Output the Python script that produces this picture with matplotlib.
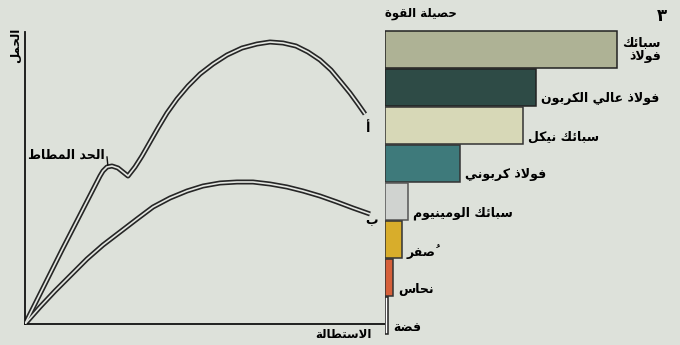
import matplotlib
matplotlib.use("Agg")
import matplotlib.pyplot as plt

######################### Data ############################
# curve a (upper, with yield point) - elongation / load in picture units
curve_a_x = [0, 37, 75, 78, 82, 87, 93, 98, 103, 110, 117, 125, 133, 142, 152,
             163, 175, 188, 202, 217, 232, 245, 258, 271, 283, 295, 306, 316,
             325, 333, 340]
curve_a_y = [0, 74, 148, 153, 157, 158, 156, 152, 148, 157, 168, 182, 196, 211,
             225, 238, 250, 260, 269, 276, 280, 282, 281, 278, 272, 264, 254,
             242, 231, 220, 210]

# curve b (lower)
curve_b_x = [0, 15, 30, 45, 62, 78, 95, 112, 128, 145, 162, 178, 195, 212, 228,
             245, 262, 278, 295, 312, 328, 345]
curve_b_y = [0, 17, 33, 48, 65, 79, 92, 105, 117, 126, 133, 138, 141, 142, 142,
             140, 137, 133, 128, 122, 116, 110]

# yield strength bars
metals = ["سبائك\nفولاذ", "فولاذ عالي الكربون", "سبائك نيكل", "فولاذ كربوني",
          "سبائك الومينيوم", "صُفر", "نحاس", "فضة"]
strength = [232, 151, 138, 75, 23, 17, 8, 3]
bar_colors = ["#aeb295", "#2e4b46", "#d7d8b7", "#3e7a7b",
              "#d0d3d0", "#d8ad2b", "#d6603a", "#ffffff"]
bar_edges = ["#222222", "#222222", "#333333", "#333333",
             "#555555", "#333333", "#333333", "#222222"]

######################### Functions ############################
# simple arabic shaping: pick presentation forms and reverse for LTR drawing
ISO = {'ء': (0xFE80, 'U'), 'آ': (0xFE81, 'R'), 'أ': (0xFE83, 'R'), 'ؤ': (0xFE85, 'R'),
       'إ': (0xFE87, 'R'), 'ئ': (0xFE89, 'D'), 'ا': (0xFE8D, 'R'), 'ب': (0xFE8F, 'D'),
       'ة': (0xFE93, 'R'), 'ت': (0xFE95, 'D'), 'ث': (0xFE99, 'D'), 'ج': (0xFE9D, 'D'),
       'ح': (0xFEA1, 'D'), 'خ': (0xFEA5, 'D'), 'د': (0xFEA9, 'R'), 'ذ': (0xFEAB, 'R'),
       'ر': (0xFEAD, 'R'), 'ز': (0xFEAF, 'R'), 'س': (0xFEB1, 'D'), 'ش': (0xFEB5, 'D'),
       'ص': (0xFEB9, 'D'), 'ض': (0xFEBD, 'D'), 'ط': (0xFEC1, 'D'), 'ظ': (0xFEC5, 'D'),
       'ع': (0xFEC9, 'D'), 'غ': (0xFECD, 'D'), 'ف': (0xFED1, 'D'), 'ق': (0xFED5, 'D'),
       'ك': (0xFED9, 'D'), 'ل': (0xFEDD, 'D'), 'م': (0xFEE1, 'D'), 'ن': (0xFEE5, 'D'),
       'ه': (0xFEE9, 'D'), 'و': (0xFEED, 'R'), 'ى': (0xFEEF, 'R'), 'ي': (0xFEF1, 'D')}
LAM_ALEF = {'آ': 0xFEF5, 'أ': 0xFEF7, 'إ': 0xFEF9, 'ا': 0xFEFB}


def is_mark(c):
    return 0x064B <= ord(c) <= 0x0652


def shape_line(text):
    chars = list(text)
    letters = [i for i, c in enumerate(chars) if not is_mark(c)]
    clusters = []
    k = 0
    while k < len(letters):
        i = letters[k]
        c = chars[i]
        marks = ""
        j = i + 1
        while j < len(chars) and is_mark(chars[j]):
            marks += chars[j]
            j += 1
        prev = chars[letters[k - 1]] if k > 0 else None
        nxt = chars[letters[k + 1]] if k + 1 < len(letters) else None
        prev_joins = prev in ISO and ISO[prev][1] == 'D'
        if c == 'ل' and nxt in LAM_ALEF:
            code = LAM_ALEF[nxt] + (1 if prev_joins else 0)
            clusters.append(chr(code) + marks)
            k += 2
            continue
        if c in ISO:
            base, kind = ISO[c]
            next_joins = nxt in ISO and ISO[nxt][1] in 'DR'
            if kind == 'D':
                if prev_joins and next_joins:
                    code = base + 3
                elif prev_joins:
                    code = base + 1
                elif next_joins:
                    code = base + 2
                else:
                    code = base
            elif kind == 'R':
                code = base + 1 if prev_joins else base
            else:
                code = base
            clusters.append(chr(code) + marks)
        else:
            clusters.append(c + marks)
        k += 1
    return "".join(reversed(clusters))


def ar(text):
    return "\n".join(shape_line(line) for line in text.split("\n"))


def double_line(ax, x, y):
    ax.plot(x, y, color="#262626", lw=3.6, solid_capstyle="butt",
            solid_joinstyle="round", zorder=2)
    ax.plot(x, y, color="#e4e7e2", lw=1.2, solid_capstyle="butt",
            solid_joinstyle="round", zorder=3)

###########################################################

plt.rcParams['font.family'] = ['DejaVu Sans']
bg = "#dde1da"

fig = plt.figure(figsize=(6.8, 3.45), dpi=100, facecolor=bg)

# load / elongation chart
ax = fig.add_axes([25 / 680, 21 / 345, 360 / 680, 292 / 345])
ax.set_facecolor("none")
ax.set_xlim(0, 360)
ax.set_ylim(0, 292)
for s in ["top", "right"]:
    ax.spines[s].set_visible(False)
for s in ["left", "bottom"]:
    ax.spines[s].set_linewidth(1.3)
    ax.spines[s].set_color("#111111")
ax.set_xticks([])
ax.set_yticks([])

double_line(ax, curve_a_x, curve_a_y)
double_line(ax, curve_b_x, curve_b_y)

ax.text(343, 196, ar("أ"), fontsize=9, fontweight="bold", ha="center", va="center")
ax.text(347, 103, ar("ب"), fontsize=9, fontweight="bold", ha="center", va="center")
ax.text(80, 169, ar("الحد المطاط"), fontsize=9, fontweight="bold", ha="right", va="center")
ax.plot([82, 83], [167, 157], color="#111111", lw=1)

fig.text(15 / 680, 1 - 45 / 345, ar("الحمل"), fontsize=8.5, fontweight="bold",
         rotation=90, ha="center", va="center")
fig.text(372 / 680, 1 - 334 / 345, ar("الاستطالة"), fontsize=8.5, fontweight="bold",
         ha="right", va="center")

# yield strength bars
bx = fig.add_axes([385 / 680, 10 / 345, 295 / 680, 305 / 345])
bx.set_facecolor("none")
bx.set_xlim(0, 295)
bx.set_ylim(7.5, -0.5)
for s in bx.spines.values():
    s.set_visible(False)
bx.set_xticks([])
bx.set_yticks([])

pos = list(range(len(metals)))
bx.barh(pos, strength, height=0.97, left=0, color=bar_colors,
        edgecolor=bar_edges, linewidth=1.1)

for i, (name, val) in enumerate(zip(metals, strength)):
    if "\n" in name:
        bx.text(val + 5, i + 0.02, ar(name), fontsize=9, fontweight="bold",
                ha="left", va="center", multialignment="right", linespacing=1.1)
    else:
        bx.text(val + 5, i + 0.3, ar(name), fontsize=9, fontweight="bold",
                ha="left", va="center")

fig.text(385 / 680, 1 - 14 / 345, ar("حصيلة القوة"), fontsize=8.5, fontweight="bold",
         ha="left", va="center")
fig.text(662 / 680, 1 - 16 / 345, "\u0663", fontsize=12, fontweight="bold",
         ha="center", va="center")

fig.savefig("out.png", dpi=100, facecolor=bg)
